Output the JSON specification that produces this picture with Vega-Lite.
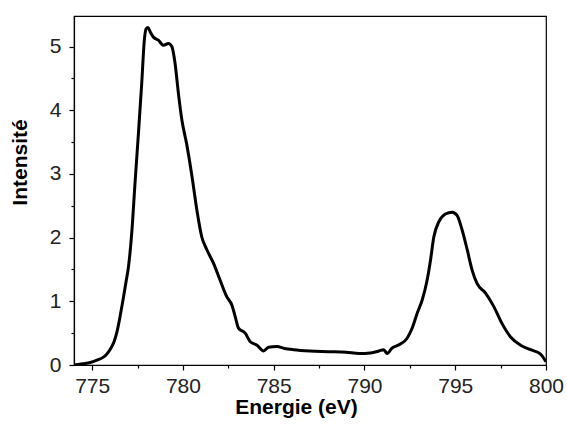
{
  "$schema": "https://vega.github.io/schema/vega-lite/v6.json",
  "autosize": "none",
  "width": 472,
  "height": 349,
  "padding": {"left": 74, "top": 16, "right": 21, "bottom": 59},
  "background": "white",
  "config": {
    "view": {"stroke": "black", "strokeWidth": 1.2},
    "axis": {
      "domainColor": "black", "domainWidth": 1.2, "tickColor": "black", "tickWidth": 1.2,
      "labelColor": "#222", "labelFont": "Liberation Sans", "labelFontSize": 21,
      "titleFont": "Liberation Sans", "titleFontSize": 21, "titleFontWeight": "bold", "titleColor": "black",
      "grid": false
    }
  },
  "data": {"values": [
    {"E": 774.0, "I": 0.0},
    {"E": 774.5, "I": 0.02},
    {"E": 774.9, "I": 0.04},
    {"E": 775.3, "I": 0.08},
    {"E": 775.6, "I": 0.12},
    {"E": 775.8, "I": 0.17},
    {"E": 775.98, "I": 0.24},
    {"E": 776.2, "I": 0.36},
    {"E": 776.35, "I": 0.5},
    {"E": 776.55, "I": 0.78},
    {"E": 776.7, "I": 1.02},
    {"E": 776.85, "I": 1.28},
    {"E": 777.0, "I": 1.54},
    {"E": 777.18, "I": 2.07},
    {"E": 777.36, "I": 2.85},
    {"E": 777.55, "I": 3.64},
    {"E": 777.73, "I": 4.42},
    {"E": 777.88, "I": 5.12},
    {"E": 777.98, "I": 5.28},
    {"E": 778.08, "I": 5.3},
    {"E": 778.2, "I": 5.23},
    {"E": 778.37, "I": 5.15},
    {"E": 778.65, "I": 5.1},
    {"E": 778.93, "I": 5.02},
    {"E": 779.2, "I": 5.05},
    {"E": 779.39, "I": 5.0},
    {"E": 779.57, "I": 4.73},
    {"E": 779.75, "I": 4.27},
    {"E": 779.94, "I": 3.85},
    {"E": 780.2, "I": 3.48},
    {"E": 780.5, "I": 2.96},
    {"E": 780.77, "I": 2.43},
    {"E": 781.04, "I": 2.01},
    {"E": 781.32, "I": 1.81},
    {"E": 781.68, "I": 1.6},
    {"E": 782.05, "I": 1.33},
    {"E": 782.42, "I": 1.07},
    {"E": 782.7, "I": 0.94},
    {"E": 782.88, "I": 0.76},
    {"E": 783.06, "I": 0.58},
    {"E": 783.43, "I": 0.5},
    {"E": 783.7, "I": 0.37},
    {"E": 784.08, "I": 0.31},
    {"E": 784.44, "I": 0.22},
    {"E": 784.72, "I": 0.28},
    {"E": 785.18, "I": 0.29},
    {"E": 785.6, "I": 0.26},
    {"E": 786.1, "I": 0.24},
    {"E": 787.0, "I": 0.22},
    {"E": 788.0, "I": 0.21},
    {"E": 789.0, "I": 0.2},
    {"E": 789.7, "I": 0.18},
    {"E": 790.33, "I": 0.19},
    {"E": 790.8, "I": 0.22},
    {"E": 791.06, "I": 0.24},
    {"E": 791.25, "I": 0.18},
    {"E": 791.5, "I": 0.26},
    {"E": 791.98, "I": 0.33},
    {"E": 792.35, "I": 0.42},
    {"E": 792.63, "I": 0.58},
    {"E": 792.9, "I": 0.81},
    {"E": 793.18, "I": 1.02},
    {"E": 793.45, "I": 1.33},
    {"E": 793.64, "I": 1.65},
    {"E": 793.82, "I": 2.01},
    {"E": 794.1, "I": 2.25},
    {"E": 794.46, "I": 2.37},
    {"E": 794.83, "I": 2.4},
    {"E": 795.1, "I": 2.35},
    {"E": 795.38, "I": 2.12},
    {"E": 795.66, "I": 1.81},
    {"E": 795.93, "I": 1.49},
    {"E": 796.2, "I": 1.28},
    {"E": 796.67, "I": 1.13},
    {"E": 797.12, "I": 0.92},
    {"E": 797.58, "I": 0.65},
    {"E": 798.05, "I": 0.44},
    {"E": 798.6, "I": 0.31},
    {"E": 799.15, "I": 0.24},
    {"E": 799.7, "I": 0.17},
    {"E": 800.0, "I": 0.05}
  ]},
  "mark": {"type": "line", "color": "black", "strokeWidth": 3, "strokeJoin": "round", "interpolate": "monotone", "clip": true},
  "encoding": {
    "x": {
      "field": "E", "type": "quantitative",
      "scale": {"domain": [774, 800], "nice": false, "zero": false},
      "axis": {
        "title": "Energie (eV)",
        "values": [775, 777.5, 780, 782.5, 785, 787.5, 790, 792.5, 795, 797.5, 800],
        "labelExpr": "datum.value % 5 === 0 ? format(datum.value, 'd') : ''",
        "tickSize": {"condition": {"test": "datum.value % 5 === 0", "value": 5}, "value": 3},
        "labelPadding": 5,
        "labelFlush": false,
        "titleX": 222, "titleY": 31, "titleBaseline": "top", "titleAlign": "center"
      }
    },
    "y": {
      "field": "I", "type": "quantitative",
      "scale": {"domain": [0, 5.48], "nice": false},
      "axis": {
        "title": "Intensité",
        "values": [0, 0.5, 1, 1.5, 2, 2.5, 3, 3.5, 4, 4.5, 5],
        "labelExpr": "datum.value % 1 === 0 ? format(datum.value, 'd') : ''",
        "tickSize": {"condition": {"test": "datum.value % 1 === 0", "value": 5}, "value": 3},
        "labelPadding": 8,
        "labelFlush": false,
        "titleX": -54, "titleY": 146, "titleAngle": 270, "titleAlign": "center", "titleBaseline": "middle"
      }
    }
  }
}
